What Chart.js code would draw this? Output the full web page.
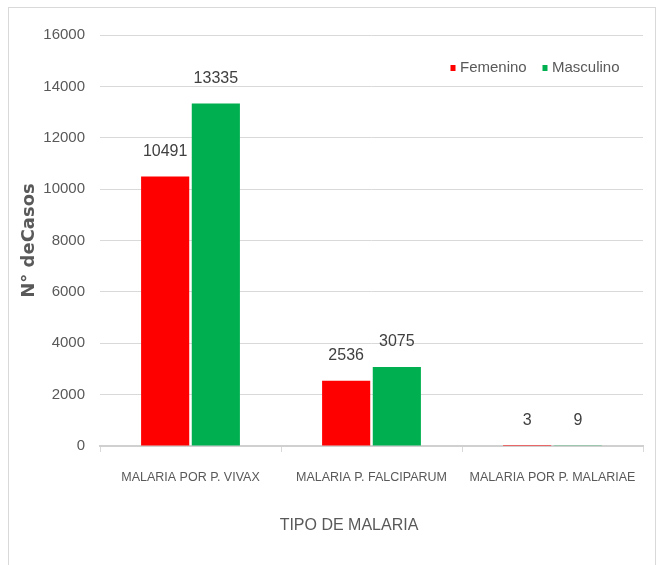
<!DOCTYPE html>
<html>
<head>
<meta charset="utf-8">
<script src="https://cdn.jsdelivr.net/npm/chart.js@4/dist/chart.umd.min.js"></script>
<style>
  html, body { margin: 0; padding: 0; background: #fff; }
  #wrap { position: relative; width: 664px; height: 565px; }
</style>
</head>
<body>
<div id="wrap"><canvas id="c" width="664" height="565"></canvas></div>
<script>
const categories = ['MALARIA POR P. VIVAX', 'MALARIA P. FALCIPARUM', 'MALARIA POR P. MALARIAE'];
const femenino = [10491, 2536, 3];
const masculino = [13335, 3075, 9];
const seriesNames = ['Femenino', 'Masculino'];
const seriesColors = ['#ff0000', '#00b050'];
const yTicks = [0, 2000, 4000, 6000, 8000, 10000, 12000, 14000, 16000];
const xTitle = 'TIPO DE MALARIA';
const yTitle = 'N° deCasos';

const TEXT = '#595959';
const FONT = '"Liberation Sans", Arial, sans-serif';

const framePlugin = {
  id: 'frame',
  beforeDraw(chart) {
    const ctx = chart.ctx;
    ctx.save();
    ctx.fillStyle = '#fff';
    ctx.fillRect(0, 0, chart.width, chart.height);
    ctx.strokeStyle = '#d9d9d9';
    ctx.lineWidth = 1;
    ctx.strokeRect(8.5, 7.5, 647, 570);
    ctx.restore();
  }
};

const labelsPlugin = {
  id: 'valueLabels',
  afterDatasetsDraw(chart) {
    const ctx = chart.ctx;
    ctx.save();
    ctx.font = '16px ' + FONT;
    ctx.fillStyle = '#404040';
    ctx.textAlign = 'center';
    ctx.textBaseline = 'middle';
    chart.data.datasets.forEach((ds, i) => {
      const meta = chart.getDatasetMeta(i);
      meta.data.forEach((bar, j) => {
        ctx.fillText(String(ds.data[j]), bar.x, bar.y - 25);
      });
    });
    ctx.restore();
  }
};

const legendPlugin = {
  id: 'customLegend',
  afterDraw(chart) {
    const ctx = chart.ctx;
    ctx.save();
    ctx.font = '15px ' + FONT;
    ctx.textBaseline = 'middle';
    ctx.textAlign = 'left';
    const pos = [453, 545];
    chart.data.datasets.forEach((ds, i) => {
      ctx.fillStyle = ds.backgroundColor;
      ctx.fillRect(pos[i] - 2.5, 65, 5, 6);
      ctx.fillStyle = TEXT;
      ctx.fillText(ds.label, pos[i] + 7, 68);
    });
    ctx.restore();
  }
};

const xTitlePlugin = {
  id: 'xTitle',
  afterDraw(chart) {
    const ctx = chart.ctx;
    ctx.save();
    ctx.font = '16px ' + FONT;
    ctx.fillStyle = TEXT;
    ctx.textAlign = 'center';
    ctx.textBaseline = 'middle';
    ctx.fillText(xTitle, 349, 526);
    ctx.restore();
  }
};

new Chart(document.getElementById('c'), {
  type: 'bar',
  data: {
    labels: categories,
    datasets: [
      { label: seriesNames[0], data: femenino, backgroundColor: seriesColors[0] },
      { label: seriesNames[1], data: masculino, backgroundColor: seriesColors[1] }
    ]
  },
  options: {
    responsive: false,
    animation: false,
    devicePixelRatio: 1,
    layout: { padding: { left: 0, right: 21, top: 35, bottom: 0 } },
    datasets: { bar: { categoryPercentage: 0.56, barPercentage: 0.95 } },
    plugins: {
      legend: { display: false },
      tooltip: { enabled: false }
    },
    scales: {
      x: {
        grid: { display: true, drawOnChartArea: false, drawTicks: true, tickLength: 6, color: '#d9d9d9' },
        border: { display: true, color: '#d0d0d0', width: 2 },
        ticks: { color: TEXT, font: { family: FONT, size: 12.5 }, padding: 18, maxRotation: 0, autoSkip: false },
        afterFit(scale) { scale.height = 119; }
      },
      y: {
        min: 0, max: 16000,
        afterBuildTicks(scale) { scale.ticks = yTicks.map(v => ({ value: v })); },
        grid: { color: '#d9d9d9', drawTicks: false, lineWidth: 1 },
        border: { display: false },
        ticks: { color: TEXT, font: { family: FONT, size: 15 }, padding: 15, callback: (v) => String(v) },
        title: {
          display: true, text: yTitle, color: TEXT,
          font: { family: '"DejaVu Sans", sans-serif', size: 18, weight: 'bold' },
          padding: { top: 19, bottom: 0 }
        },
        afterFit(scale) { scale.width = 100; }
      }
    }
  },
  plugins: [framePlugin, labelsPlugin, legendPlugin, xTitlePlugin]
});
</script>
</body>
</html>
